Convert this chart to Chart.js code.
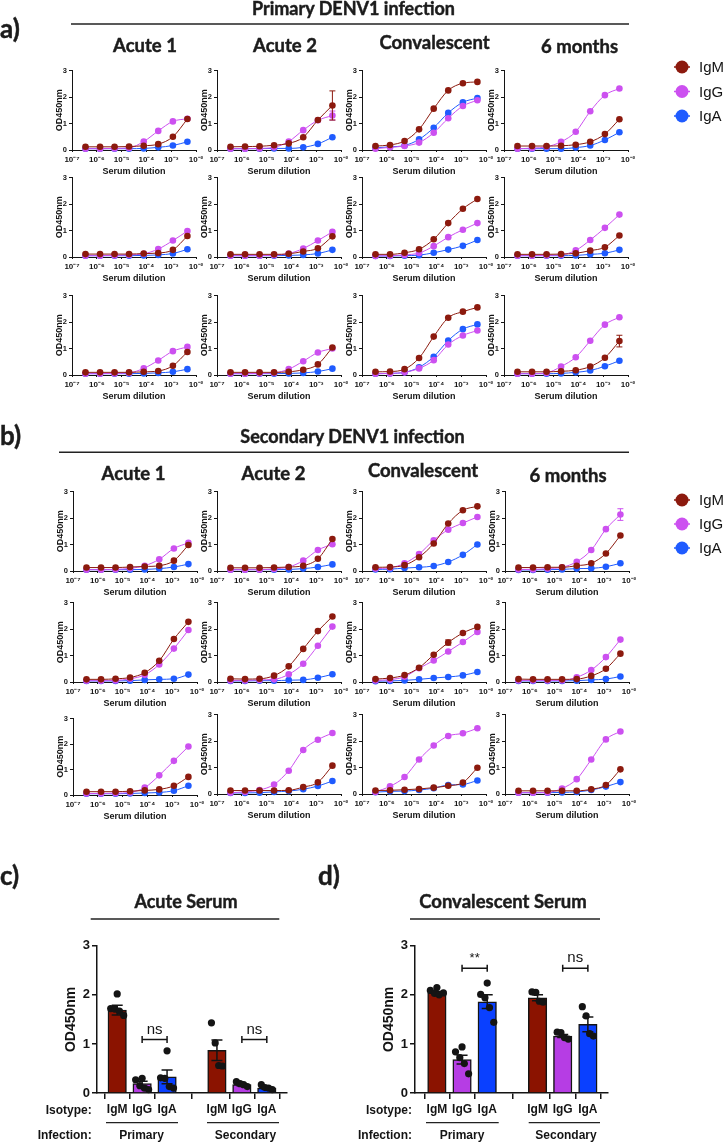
<!DOCTYPE html>
<html><head><meta charset="utf-8">
<script src="https://cdn.jsdelivr.net/npm/chart.js@4.4.1/dist/chart.umd.min.js"></script>
<style>
html,body{margin:0;padding:0;background:#fff}
body{position:relative;width:724px;height:1142px;overflow:hidden}
canvas{position:absolute}
#ov{position:absolute;left:0;top:0}
</style></head><body>
<svg id="ov" width="724" height="1142" xmlns="http://www.w3.org/2000/svg"></svg>
<script>
// ================= DATA =================
const dilution = [3.5e-7, 1.35e-6, 5.2e-6, 2.0e-5, 7.8e-5, 3.0e-4, 1.17e-3, 4.5e-3];
const xTickValues = [1e-7, 1e-6, 1e-5, 1e-4, 1e-3, 1e-2];
const xTickLabels = ['10⁻⁷', '10⁻⁶', '10⁻⁵', '10⁻⁴', '10⁻³', '10⁻²'];
const yTickValues = [0, 1, 2, 3];
const isotypes = ['IgM', 'IgG', 'IgA'];
const timepoints = ['Acute 1', 'Acute 2', 'Convalescent', '6 months'];

// Primary DENV1 infection: 3 rows x 4 timepoints (row-major)
const priIgM = [
  [0.12,0.12,0.12,0.13,0.16,0.22,0.50,1.17],
  [0.12,0.13,0.14,0.18,0.25,0.48,1.13,1.68],
  [0.15,0.19,0.34,0.78,1.56,2.25,2.52,2.57],
  [0.15,0.15,0.15,0.16,0.20,0.31,0.60,1.16],
  [0.11,0.11,0.11,0.11,0.13,0.15,0.27,0.79],
  [0.10,0.10,0.10,0.10,0.12,0.21,0.33,0.78],
  [0.10,0.10,0.16,0.29,0.67,1.28,1.82,2.19],
  [0.10,0.10,0.10,0.11,0.14,0.24,0.37,0.81],
  [0.10,0.10,0.10,0.10,0.12,0.15,0.35,0.87],
  [0.10,0.10,0.10,0.10,0.12,0.20,0.40,1.04],
  [0.12,0.13,0.22,0.64,1.45,2.16,2.39,2.55],
  [0.12,0.12,0.12,0.14,0.18,0.32,0.65,1.28]
];
const priIgG = [
  [0.05,0.05,0.06,0.08,0.32,0.72,1.08,1.18],
  [0.05,0.05,0.06,0.10,0.32,0.75,1.12,1.30],
  [0.05,0.10,0.15,0.28,0.65,1.20,1.66,1.88],
  [0.05,0.07,0.12,0.31,0.69,1.46,2.07,2.32],
  [0.05,0.05,0.06,0.08,0.12,0.30,0.62,0.98],
  [0.05,0.05,0.05,0.07,0.13,0.32,0.62,0.95],
  [0.04,0.05,0.08,0.15,0.41,0.75,1.03,1.28],
  [0.05,0.05,0.06,0.08,0.25,0.64,1.10,1.60],
  [0.05,0.05,0.06,0.08,0.25,0.55,0.90,1.06],
  [0.05,0.05,0.06,0.08,0.22,0.52,0.85,1.00],
  [0.05,0.06,0.10,0.25,0.56,1.15,1.49,1.68],
  [0.05,0.05,0.08,0.32,0.67,1.29,1.90,2.18]
];
const priIgA = [
  [0.05,0.05,0.05,0.05,0.06,0.10,0.17,0.31],
  [0.05,0.05,0.05,0.06,0.06,0.10,0.23,0.48],
  [0.08,0.12,0.17,0.40,0.84,1.40,1.80,1.96],
  [0.05,0.05,0.05,0.05,0.09,0.17,0.38,0.67],
  [0.05,0.05,0.05,0.05,0.06,0.08,0.13,0.29],
  [0.05,0.05,0.05,0.05,0.06,0.08,0.13,0.27],
  [0.04,0.04,0.05,0.07,0.16,0.28,0.42,0.64],
  [0.05,0.05,0.05,0.05,0.06,0.10,0.14,0.27],
  [0.05,0.05,0.05,0.05,0.06,0.08,0.12,0.22],
  [0.05,0.05,0.05,0.05,0.06,0.08,0.13,0.24],
  [0.05,0.06,0.10,0.29,0.69,1.30,1.73,1.91],
  [0.05,0.05,0.05,0.06,0.10,0.17,0.33,0.54]
];
// Secondary DENV1 infection
const secIgM = [
  [0.13,0.13,0.13,0.15,0.17,0.20,0.39,0.98],
  [0.12,0.12,0.12,0.13,0.15,0.20,0.46,1.21],
  [0.14,0.15,0.22,0.52,1.04,1.79,2.29,2.44],
  [0.13,0.13,0.14,0.14,0.20,0.29,0.66,1.34],
  [0.10,0.10,0.12,0.17,0.35,0.80,1.62,2.27],
  [0.12,0.11,0.12,0.24,0.59,1.25,1.92,2.47],
  [0.11,0.15,0.26,0.54,1.03,1.49,1.85,2.08],
  [0.11,0.10,0.10,0.10,0.11,0.23,0.50,1.07],
  [0.13,0.13,0.13,0.15,0.18,0.22,0.36,0.71],
  [0.13,0.13,0.13,0.13,0.14,0.26,0.44,1.07],
  [0.13,0.14,0.16,0.19,0.24,0.31,0.43,0.99],
  [0.12,0.12,0.12,0.12,0.12,0.18,0.34,0.93]
];
const secIgG = [
  [0.05,0.05,0.06,0.10,0.20,0.44,0.85,1.06],
  [0.05,0.05,0.05,0.08,0.15,0.39,0.79,1.01],
  [0.09,0.12,0.29,0.64,1.16,1.56,1.81,2.04],
  [0.06,0.06,0.09,0.14,0.35,0.79,1.58,2.13],
  [0.05,0.05,0.06,0.12,0.27,0.66,1.26,1.96],
  [0.06,0.06,0.08,0.10,0.29,0.69,1.37,2.09],
  [0.06,0.09,0.20,0.52,0.81,1.15,1.51,1.89],
  [0.06,0.06,0.06,0.06,0.18,0.45,0.94,1.60],
  [0.06,0.06,0.07,0.10,0.29,0.77,1.34,1.90],
  [0.05,0.08,0.15,0.36,0.88,1.66,2.05,2.30],
  [0.08,0.29,0.64,1.30,1.83,2.19,2.29,2.48],
  [0.05,0.05,0.06,0.21,0.56,1.30,2.06,2.36]
];
const secIgA = [
  [0.05,0.05,0.05,0.05,0.06,0.09,0.15,0.26],
  [0.05,0.05,0.05,0.05,0.06,0.09,0.15,0.25],
  [0.06,0.07,0.11,0.14,0.19,0.34,0.61,1.00],
  [0.04,0.04,0.05,0.06,0.09,0.10,0.16,0.29],
  [0.04,0.04,0.04,0.05,0.08,0.10,0.12,0.28],
  [0.04,0.04,0.05,0.05,0.07,0.08,0.16,0.29],
  [0.03,0.04,0.06,0.10,0.15,0.19,0.25,0.38],
  [0.04,0.04,0.04,0.04,0.05,0.08,0.11,0.21],
  [0.05,0.05,0.05,0.06,0.08,0.10,0.17,0.36],
  [0.04,0.04,0.05,0.08,0.11,0.18,0.30,0.49],
  [0.07,0.10,0.11,0.15,0.22,0.34,0.36,0.51],
  [0.05,0.05,0.05,0.06,0.08,0.15,0.28,0.45]
];
// visible error bars on curves: [panel, chart index, isotype, point index, SEM]
const curveErrors = [
  ['pri', 1, 'IgM', 7, 0.55],
  ['pri', 1, 'IgG', 7, 0.17],
  ['pri', 11, 'IgM', 7, 0.22],
  ['sec', 3, 'IgG', 7, 0.22],
  ['sec', 6, 'IgM', 5, 0.10]
];

// Bar charts
const barCats = ['IgM', 'IgG', 'IgA', 'IgM', 'IgG', 'IgA'];
const infectionGroups = ['Primary', 'Secondary'];
const acuteMean = [1.69, 0.19, 0.33, 0.87, 0.17, 0.10];
const acuteSem  = [0.10, 0.05, 0.14, 0.21, 0.02, 0.02];
const acuteDots = [
  [2.02,1.72,1.71,1.67,1.58],
  [0.30,0.27,0.15,0.10,0.07],
  [0.86,0.31,0.30,0.13,0.10],
  [1.43,1.02,0.56,0.55],
  [0.23,0.19,0.17,0.13],
  [0.17,0.11,0.10,0.07]
];
const convMean = [2.04, 0.68, 1.86, 1.94, 1.16, 1.40];
const convSem  = [0.03, 0.09, 0.14, 0.06, 0.03, 0.15];
const convDots = [
  [2.15,2.09,2.03,2.00,2.04],
  [0.94,0.84,0.72,0.60,0.39],
  [2.24,2.01,1.94,1.74,1.44],
  [2.06,2.05,1.87,1.85],
  [1.24,1.23,1.13,1.10],
  [1.76,1.57,1.21,1.16]
];
// significance: [category index a, category index b, bracket value, label]
const acuteSig = [[1, 2, 1.09, 'ns'], [4, 5, 1.09, 'ns']];
const convSig  = [[1, 2, 2.54, '**'], [4, 5, 2.54, 'ns']];

// ================= STYLE =================
const lineColor = {IgM: '#8C1A0E', IgG: '#CC50F0', IgA: '#1F5BFF'};
const barColor = ['#8B1300', '#B63DE4', '#0A40FF'];
const INK = '#141414';
const FONT = "'Liberation Sans', Arial, Helvetica, sans-serif";
Chart.defaults.font.family = FONT;
Chart.defaults.color = INK;
Chart.defaults.animation = false;

const ov = document.getElementById('ov');
function makeCanvas(left, top, w, h) {
  const c = document.createElement('canvas');
  c.width = w; c.height = h;
  c.style.left = left + 'px'; c.style.top = top + 'px';
  c.style.width = w + 'px'; c.style.height = h + 'px';
  document.body.insertBefore(c, ov);
  return c;
}

const errPlugin = {
  id: 'errbars',
  afterDatasetDraw(chart, args) {
    const ds = chart.data.datasets[args.index];
    if (!ds.errs) return;
    const ys = chart.scales.y, ctx = chart.ctx;
    ctx.save();
    ctx.strokeStyle = ds.errColor || ds.borderColor;
    ctx.lineWidth = ds.errWidth || 1;
    ds.errs.forEach((e, i) => {
      if (e == null) return;
      const el = args.meta.data[i];
      const v = ds.data[i].y;
      const x = el.x, y1 = ys.getPixelForValue(v + e), y2 = ys.getPixelForValue(v - e), c = ds.errCap || 3;
      ctx.beginPath();
      ctx.moveTo(x, y1); ctx.lineTo(x, y2);
      ctx.moveTo(x - c, y1); ctx.lineTo(x + c, y1);
      ctx.moveTo(x - c, y2); ctx.lineTo(x + c, y2);
      ctx.stroke();
    });
    ctx.restore();
  }
};

// ================= SMALL TITRATION CHARTS =================
const PW = 124, YW = 24, PADT = 6, PADR = 10, XH = 30;
function titration(panel, idx, axisX, top, h) {
  const src = panel === 'pri' ? {IgM: priIgM, IgG: priIgG, IgA: priIgA} : {IgM: secIgM, IgG: secIgG, IgA: secIgA};
  const cv = makeCanvas(axisX - YW, top - PADT, YW + PW + PADR, PADT + h + XH);
  const datasets = isotypes.map(iso => {
    const errs = new Array(dilution.length).fill(null);
    curveErrors.forEach(([p, k, s, pt, e]) => { if (p === panel && k === idx && s === iso) errs[pt] = e; });
    return {
      label: iso,
      data: src[iso][idx].map((v, i) => ({x: dilution[i], y: v})),
      borderColor: lineColor[iso], backgroundColor: lineColor[iso],
      borderWidth: 1, pointRadius: 3.3, pointBorderWidth: 0, pointHoverRadius: 3.3,
      cubicInterpolationMode: 'monotone', clip: false,
      errs: errs.some(e => e != null) ? errs : null, errCap: 3
    };
  });
  new Chart(cv, {
    type: 'line',
    data: {datasets},
    plugins: [errPlugin],
    options: {
      responsive: false, animation: false, devicePixelRatio: 1,
      layout: {padding: {top: PADT, right: PADR, left: 0, bottom: 0}},
      plugins: {legend: {display: false}, tooltip: {enabled: false}},
      scales: {
        x: {
          type: 'logarithmic', min: 1e-7, max: 1e-2,
          afterBuildTicks: s => { s.ticks = xTickValues.map(v => ({value: v})); },
          afterFit: s => { s.height = XH; },
          ticks: {
            autoSkip: false, maxRotation: 0, minRotation: 0, padding: 2.6,
            font: {size: 8, weight: 'bold'}, color: INK,
            callback: v => xTickLabels[xTickValues.findIndex(t => Math.abs(Math.log10(t) - Math.log10(v)) < 1e-6)]
          },
          grid: {drawOnChartArea: false, drawTicks: true, tickLength: 2, color: INK, lineWidth: 1},
          border: {display: true, color: INK, width: 1},
          title: {display: true, text: 'Serum dilution', font: {size: 9, weight: 'bold'}, color: INK, padding: {top: 0, bottom: 3}}
        },
        y: {
          min: 0, max: 3,
          afterBuildTicks: s => { s.ticks = yTickValues.map(v => ({value: v})); },
          afterFit: s => { s.width = YW; },
          ticks: {font: {size: 7.5, weight: 'bold'}, color: INK, padding: 2, callback: v => String(v)},
          grid: {drawOnChartArea: false, drawTicks: true, tickLength: 3, color: INK, lineWidth: 1},
          border: {display: true, color: INK, width: 1},
          title: {display: true, text: 'OD450nm', font: {size: 9, weight: 'bold'}, color: INK, padding: {top: 6, bottom: 0}}
        }
      }
    }
  });
}

const colsA = [72, 216.5, 361.5, 504], rowsA = [70, 177, 295];
const colsB = [73, 217, 362, 505], rowsB = [491, 602, 714];
for (let r = 0; r < 3; r++) for (let c = 0; c < 4; c++) {
  titration('pri', r * 4 + c, colsA[c], rowsA[r], 80);
  if (r === 2 && c === 0) titration('sec', r * 4 + c, colsB[c], 718, 77);
  else titration('sec', r * 4 + c, colsB[c], rowsB[r], 80);
}

// ================= BAR CHARTS =================
const catPos = i => i + (i >= 3 ? 2 : 1);
const jitter = n => n === 5 ? [0, -0.26, -0.09, 0.09, 0.26] : [-0.22, -0.07, 0.07, 0.22];
const sigPlugin = {
  id: 'sig',
  afterDatasetsDraw(chart) {
    const list = chart.config.options.sigList || [];
    const xs = chart.scales.x, ys = chart.scales.y, ctx = chart.ctx;
    list.forEach(([a, b, v, lab]) => {
      const x1 = xs.getPixelForValue(catPos(a)), x2 = xs.getPixelForValue(catPos(b)), y = ys.getPixelForValue(v);
      ctx.save();
      ctx.strokeStyle = INK; ctx.lineWidth = 1.5;
      ctx.beginPath();
      ctx.moveTo(x1, y); ctx.lineTo(x2, y);
      ctx.moveTo(x1, y - 3.5); ctx.lineTo(x1, y + 3.5);
      ctx.moveTo(x2, y - 3.5); ctx.lineTo(x2, y + 3.5);
      ctx.stroke();
      ctx.fillStyle = INK; ctx.textAlign = 'center'; ctx.textBaseline = 'alphabetic';
      ctx.font = (lab === 'ns' ? '15px ' : '13px ') + FONT;
      ctx.fillText(lab, (x1 + x2) / 2, y - 6);
      ctx.restore();
    });
  }
};
function barChart(left, axisX, rightX, xmin, xmax, means, sems, dots, sig) {
  const YWB = axisX - left, PR = 8;
  const cv = makeCanvas(left, 936, rightX - left + PR, 8 + 149 + 32);
  const scatter = [];
  dots.forEach((arr, i) => { const j = jitter(arr.length); arr.forEach((v, k) => scatter.push({x: catPos(i) + j[k], y: v})); });
  new Chart(cv, {
    type: 'bar',
    data: {datasets: [
      {type: 'scatter', data: scatter, backgroundColor: INK, borderWidth: 0, pointRadius: 3.6, pointHoverRadius: 3.6, order: 0, clip: false},
      {type: 'bar', data: means.map((v, i) => ({x: catPos(i), y: v})), backgroundColor: means.map((v, i) => barColor[i % 3]),
       borderColor: INK, borderWidth: 1.5, barThickness: 18.5, order: 1, errs: sems, errColor: INK, errWidth: 1.5, errCap: 5.5}
    ]},
    plugins: [errPlugin, sigPlugin],
    options: {
      sigList: sig,
      responsive: false, animation: false, devicePixelRatio: 1,
      layout: {padding: {top: 8, right: PR, left: 0, bottom: 0}},
      plugins: {legend: {display: false}, tooltip: {enabled: false}},
      scales: {
        x: {
          type: 'linear', min: xmin, max: xmax, offset: false,
          afterBuildTicks: s => { s.ticks = barCats.map((c, i) => ({value: catPos(i)})); },
          afterFit: s => { s.height = 32; },
          ticks: {autoSkip: false, maxRotation: 0, padding: 3.5, font: {size: 12, weight: 'bold'}, color: INK,
                  callback: (v, i) => barCats[i]},
          grid: {drawOnChartArea: false, drawTicks: true, tickLength: 6, color: INK, lineWidth: 1.5},
          border: {display: true, color: INK, width: 1.5}
        },
        y: {
          min: 0, max: 3,
          afterBuildTicks: s => { s.ticks = yTickValues.map(v => ({value: v})); },
          afterFit: s => { s.width = YWB; },
          ticks: {font: {size: 13, weight: 'bold'}, color: INK, padding: 2, callback: v => String(v)},
          grid: {drawOnChartArea: false, drawTicks: true, tickLength: 5, color: INK, lineWidth: 1.5},
          border: {display: true, color: INK, width: 1.5},
          title: {display: true, text: 'OD450nm', font: {size: 14, weight: 'bold'}, color: INK, padding: {top: YWB - 34.6, bottom: 0}}
        }
      }
    }
  });
}
barChart(51, 97, 287.3, 0.19, 7.81, acuteMean, acuteSem, acuteDots, acuteSig);
barChart(369, 415, 608, 0.13, 7.8, convMean, convSem, convDots, convSig);

// ================= TEXT / RULES OVERLAY =================
const NS = 'http://www.w3.org/2000/svg';
function svgEl(tag, attrs, text) {
  const e = document.createElementNS(NS, tag);
  for (const k in attrs) e.setAttribute(k, attrs[k]);
  if (text != null) e.textContent = text;
  ov.appendChild(e);
  return e;
}
function heading(t, x, y, size, anchor = 'middle') {
  svgEl('text', {x, y, 'font-family': 'Lato, Carlito, sans-serif', 'font-weight': 700, 'font-size': size,
    fill: '#1c1c1c', stroke: '#1c1c1c', 'stroke-width': 0.45, 'text-anchor': anchor}, t);
}
function label(t, x, y, size, anchor = 'middle', weight = 700) {
  svgEl('text', {x, y, 'font-family': FONT, 'font-weight': weight, 'font-size': size, fill: INK, 'text-anchor': anchor}, t);
}
function rule(x1, x2, y, w = 1.5) { svgEl('line', {x1, x2, y1: y, y2: y, stroke: '#222', 'stroke-width': w}); }

// panel a
heading('a)', 0, 37.5, 26, 'start');
heading('Primary DENV1 infection', 353.5, 15, 18);
rule(71, 629, 24);
[[145, 51.7], [285, 51.7], [434.5, 49.3], [579.5, 52.7]].forEach(([x, y], i) => heading(timepoints[i], x, y, 18.5));
// panel b
heading('b)', 0, 445, 26, 'start');
heading('Secondary DENV1 infection', 352.5, 443, 18);
rule(59, 629, 452.3);
[[133.5, 480], [273.5, 480], [423, 477], [568, 482]].forEach(([x, y], i) => heading(timepoints[i], x, y, 18.5));
// legends
function legend(ys) {
  isotypes.forEach((iso, i) => {
    const y = ys[i];
    svgEl('line', {x1: 674, x2: 690, y1: y, y2: y, stroke: lineColor[iso], 'stroke-width': 1.5});
    svgEl('circle', {cx: 682, cy: y, r: 6.5, fill: lineColor[iso]});
    label(iso, 699, y + 5.4, 15, 'start', 400);
  });
}
legend([67, 91.5, 116]);
legend([500, 524, 548]);
// panels c, d
heading('c)', 0, 885, 26, 'start');
heading('d)', 318, 885, 26, 'start');
heading('Acute Serum', 186, 908, 18);
heading('Convalescent Serum', 503, 908, 18.5);
rule(90.7, 279.3, 919);
rule(410, 600, 919);
[[91.7, 141.5, 245.5, 106, 178, 207, 279], [412, 462, 566, 426, 498.7, 528.7, 600]].forEach(([rx, p, s, a1, a2, b1, b2]) => {
  label('Isotype:', rx, 1114.3, 12, 'end');
  label('Infection:', rx, 1139.3, 12, 'end');
  label(infectionGroups[0], p, 1139.3, 12);
  label(infectionGroups[1], s, 1139.3, 12);
  rule(a1, a2, 1122.7, 1.2);
  rule(b1, b2, 1122.7, 1.2);
});
</script>
</body></html>
